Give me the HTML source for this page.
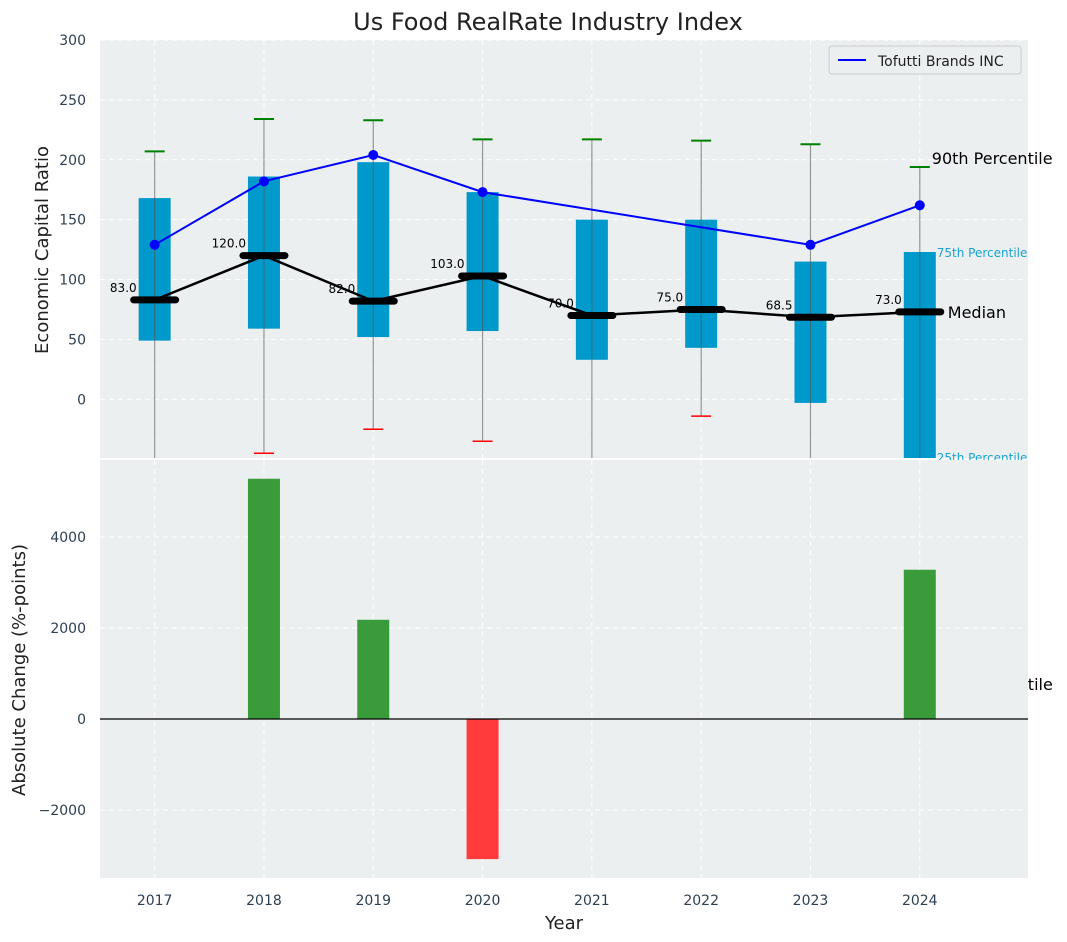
<!DOCTYPE html>
<html><head><meta charset="utf-8">
<style>body{margin:0;background:#fff}svg{display:block;font-family:"DejaVu Sans","Liberation Sans",sans-serif}</style>
</head><body>
<svg id="c" width="1067" height="942"></svg>
<script>
const years=[2017,2018,2019,2020,2021,2022,2023,2024];
const q1=[49,59,52,57,33,43,-3,-60];
const q3=[168,186,198,173,150,150,115,123];
const medians=[83,120,82,103,70,75,68.5,73];
const p90=[207,234,233,217,217,216,213,194];
const p10=[-80,-45,-25,-35,-80,-14,-80,-80];
const tofutti=[129,182,204,173,null,null,129,162];
const changes=[0,5280,2180,-3080,0,0,0,3280];
const topTicks=[0,50,100,150,200,250,300];
const botTicks=[-2000,0,2000,4000];
const NS='http://www.w3.org/2000/svg';
const svg=document.getElementById('c');
function el(t,a,p){const e=document.createElementNS(NS,t);for(const k in a)e.setAttribute(k,a[k]);(p||svg).appendChild(e);return e;}
const L=100,R=1028;
const x=v=>L+(v-2016.5)/(2024.99-2016.5)*(R-L);
const T0=40,T1=458;const yT=v=>T0+(300-v)/(300-(-49))*(T1-T0);
const B0=460,B1=878;const yB=v=>B0+(5692-v)/(5692-(-3495))*(B1-B0);
// title
let t=el('text',{x:548,y:30,'text-anchor':'middle','font-size':24,fill:'#222'});t.textContent='Us Food RealRate Industry Index';

// bottom 10th percentile stray label (behind)
t=el('text',{x:932,y:690,'font-size':16,fill:'#000'});t.textContent='10th Percentile';

// top panel
let g=el('g',{});
el('rect',{x:L,y:T0,width:R-L,height:T1-T0,fill:'#ebeff0'},g);
const defs=el('defs',{});const cp=el('clipPath',{id:'ct'},defs);el('rect',{x:L,y:T0,width:R-L,height:T1-T0},cp);
topTicks.forEach(v=>{el('line',{x1:L,x2:R,y1:yT(v),y2:yT(v),stroke:'#fff','stroke-dasharray':'5,4'},g);
 const tx=el('text',{x:L-14,y:yT(v)+5,'text-anchor':'end','font-size':14,fill:'#2e4053'},g);tx.textContent=v;
 });
years.forEach(v=>el('line',{x1:x(v),x2:x(v),y1:T0,y2:T1,stroke:'#fff','stroke-dasharray':'5,4'},g));
const cg=el('g',{'clip-path':'url(#ct)'},g);
years.forEach((yr,i)=>{const cx=x(yr);
 const b=el('rect',{x:cx-16,y:yT(q3[i]),width:32,height:yT(q1[i])-yT(q3[i]),fill:'#0099cc'},cg);
 
 el('line',{x1:cx,x2:cx,y1:yT(p90[i]),y2:yT(p10[i]),stroke:'#555','stroke-opacity':0.6,'stroke-width':1.2},cg);
 el('line',{x1:cx-10,x2:cx+10,y1:yT(p90[i]),y2:yT(p90[i]),stroke:'green','stroke-width':2},cg);
 el('line',{x1:cx-10,x2:cx+10,y1:yT(p10[i]),y2:yT(p10[i]),stroke:'red','stroke-width':1.5},cg);
});
el('polyline',{points:years.map((y,i)=>x(y)+','+yT(medians[i])).join(' '),fill:'none',stroke:'#000','stroke-width':2.5},cg);
years.forEach((yr,i)=>{const cx=x(yr);
 el('line',{x1:cx-21,x2:cx+21,y1:yT(medians[i]),y2:yT(medians[i]),stroke:'#000','stroke-width':7,'stroke-linecap':'round'},cg);
 const tx=el('text',{x:cx-18,y:yT(medians[i])-8,'text-anchor':'end','font-size':12,fill:'#000'},cg);tx.textContent=medians[i].toFixed(1);
 });
const pts=years.map((y,i)=>tofutti[i]==null?null:[x(y),yT(tofutti[i])]).filter(p=>p);
const ln=el('polyline',{points:pts.map(p=>p.join(',')).join(' '),fill:'none',stroke:'#0000ff','stroke-width':2},cg);

pts.forEach(p=>el('circle',{cx:p[0],cy:p[1],r:5,fill:'#0000ff'},cg));
const lx=x(2024);
[['90th Percentile',lx+12,yT(p90[7])-3,16,'#000'],['75th Percentile',lx+17,yT(q3[7])+5,12,'#1aa3d1'],['Median',lx+28,yT(medians[7])+6,16,'#000'],['25th Percentile',lx+17,T1+4,12,'#1aa3d1']].forEach(a=>{
 const tx=el('text',{x:a[1],y:a[2],'font-size':a[3],fill:a[4]});tx.textContent=a[0];
 });
// legend
const lg=el('g',{});
el('rect',{x:829,y:46,width:192,height:28,rx:3,fill:'#ebeff0',stroke:'#ccc'},lg);
el('line',{x1:838,x2:866,y1:60,y2:60,stroke:'#0000ff','stroke-width':2},lg);
t=el('text',{x:878,y:66,'font-size':14,fill:'#222'},lg);t.textContent='Tofutti Brands INC';
el('text',{x:48,y:250,'font-size':18,fill:'#222','text-anchor':'middle',transform:'rotate(-90 48 250)'}).textContent='Economic Capital Ratio';
// bottom panel
g=el('g',{});
el('rect',{x:L,y:B0,width:R-L,height:B1-B0,fill:'#ebeff0'},g);
botTicks.forEach(v=>{el('line',{x1:L,x2:R,y1:yB(v),y2:yB(v),stroke:'#fff','stroke-dasharray':'5,4'},g);
 const tx=el('text',{x:L-14,y:yB(v)+5,'text-anchor':'end','font-size':14,fill:'#2e4053'},g);tx.textContent=(v<0?'\u2212':'')+Math.abs(v);
 });
years.forEach(v=>{el('line',{x1:x(v),x2:x(v),y1:B0,y2:B1,stroke:'#fff','stroke-dasharray':'5,4'},g);
 const tx=el('text',{x:x(v),y:B1+27,'text-anchor':'middle','font-size':14,fill:'#2e4053'},g);tx.textContent=v;
 });
years.forEach((yr,i)=>{if(!changes[i])return;const v=changes[i];
 const b=el('rect',{x:x(yr)-16,y:Math.min(yB(v),yB(0)),width:32,height:Math.abs(yB(v)-yB(0)),fill:v>0?'#3a9b3a':'#ff3b3b'},g);
 });
el('line',{x1:L,x2:R,y1:yB(0),y2:yB(0),stroke:'#000','stroke-width':1.2},g);
el('text',{x:564,y:929,'font-size':18,fill:'#222','text-anchor':'middle'}).textContent='Year';
el('text',{x:25,y:670,'font-size':18,fill:'#222','text-anchor':'middle',transform:'rotate(-90 25 670)'}).textContent='Absolute Change (%-points)';
</script>
</body></html>
